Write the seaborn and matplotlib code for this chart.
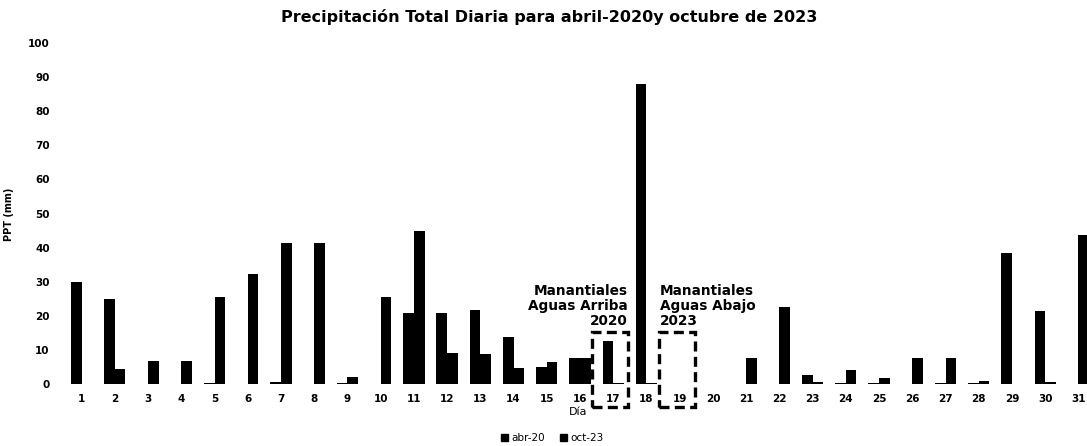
import matplotlib
matplotlib.use("Agg")
import matplotlib.pyplot as plt
from matplotlib.patches import Rectangle
import seaborn as sns
import pandas as pd

days = [str(d) for d in range(1, 32)]
abr20 = [30, 25, 0.2, 0, 0.3, 0, 0.8, 0, 0.3, 0.2, 21, 20.8, 21.8, 14, 5.2, 7.6,
         12.8, 88, 0.2, 0, 0, 0.2, 2.7, 0.3, 0.5, 0.1, 0.4, 0.5, 38.6, 21.5, 0.2]
oct23 = [0, 4.5, 7, 6.8, 25.7, 32.3, 41.3, 41.3, 2.2, 25.7, 44.8, 9.1, 8.9, 4.7, 6.5, 7.6,
         0.3, 0.3, 0, 0.2, 7.6, 22.8, 0.8, 4.2, 1.8, 7.6, 7.6, 0.9, 0, 0.8, 43.8]
series = ["abr-20", "oct-23"]
yticks = list(range(0, 101, 10))
title = "Precipitación Total Diaria para abril-2020y octubre de 2023"
notes = [("17", "Manantiales\nAguas Arriba\n2020"), ("19", "Manantiales\nAguas Abajo\n2023")]

df = pd.DataFrame({
    "Día": days * 2,
    "PPT": abr20 + oct23,
    "Serie": [series[0]] * len(days) + [series[1]] * len(days),
})

sns.set_theme(style="white")
plt.rcParams["font.family"] = ["DejaVu Sans"]
plt.rcParams["text.color"] = "black"
plt.rcParams["axes.labelcolor"] = "black"
plt.rcParams["xtick.color"] = "black"
plt.rcParams["ytick.color"] = "black"

fig = plt.figure(figsize=(10.87, 4.46), dpi=100)
ax = fig.add_axes([0.0598, 0.138, 0.9476, 0.766])

sns.barplot(data=df, x="Día", y="PPT", hue="Serie", order=days, hue_order=series,
            palette=["black", "black"], width=0.64, gap=0, saturation=1,
            edgecolor="none", linewidth=0, errorbar=None, legend=False, ax=ax)

ax.set_xlim(-0.5, 30.5)
ax.set_ylim(0, 100)
ax.set_yticks(yticks)
for s in ax.spines.values():
    s.set_visible(False)
ax.tick_params(axis="both", length=0, labelsize=7.5, colors="black")
ax.tick_params(axis="y", pad=11)
ax.tick_params(axis="x", pad=7)
for lab in ax.get_xticklabels() + ax.get_yticklabels():
    lab.set_fontweight("bold")

ax.set_xlabel("Día", fontsize=8, color="black")
ax.xaxis.set_label_coords(0.498, -0.066)
ax.set_ylabel("PPT (mm)", fontsize=7, fontweight="bold", color="black")
ax.yaxis.set_label_coords(-0.050, 0.499)

fig.text(0.5055, 0.962, title, ha="center", va="center", fontsize=11.5,
         fontweight="bold", color="black")

# annotations with dashed boxes
for k, (day, txt) in enumerate(notes):
    i = days.index(day)
    rect = Rectangle((i - 0.63, -6.6), 1.08, 22.0, fill=False, edgecolor="black",
                     linewidth=2.4, linestyle=(0, (3, 1.6)), clip_on=False)
    ax.add_patch(rect)
    if k == 0:
        ax.text(i + 0.43, 29.4, txt, ha="right", va="top", fontsize=9.8,
                fontweight="bold", linespacing=1.1, color="black")
    else:
        ax.text(i - 0.60, 29.4, txt, ha="left", va="top", fontsize=9.8,
                fontweight="bold", linespacing=1.1, color="black")

handles = [Rectangle((0, 0), 1, 1, color="black") for _ in series]
fig.legend(handles, series, loc="center", bbox_to_anchor=(0.508, 0.018), ncol=2,
           frameon=False, fontsize=7.5, handlelength=0.7, handleheight=0.7,
           handletextpad=0.3, columnspacing=1.4, labelcolor="black")

fig.savefig("out.png", dpi=100)
